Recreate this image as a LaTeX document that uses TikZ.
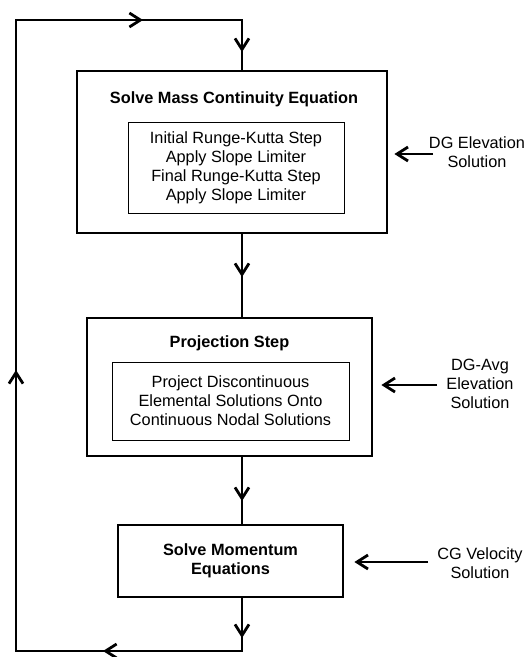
\documentclass[tikz,border=0pt]{standalone}
\usepackage{fontspec}
\setmainfont{Liberation Sans}
\usetikzlibrary{arrows.meta,calc}
\begin{document}
\begin{tikzpicture}[x=1pt,y=-1pt,
  font=\fontsize{16.3}{19}\selectfont,
  outerbox/.style={draw,line width=2.8pt,inner sep=0pt},
  innerbox/.style={draw,line width=1pt,inner sep=0pt,align=center},
  titletext/.style={font=\fontsize{16.3}{19}\selectfont\bfseries,align=center,inner sep=0pt},
  sidetext/.style={align=center,inner sep=0pt},
  flow/.style={line width=2.8pt,line join=miter},
  arr/.style={line width=2.8pt,-{Straight Barb[length=11pt,width=14pt]}}]
\useasboundingbox (0,0) rectangle (530,657);

% boxes
\node[outerbox,minimum width=310,minimum height=162] (b1) at (232,152) {};
\node[titletext] (t1) at (234,99) {Solve Mass Continuity Equation};
\node[innerbox,minimum width=216,minimum height=91] (i1) at (236,167.5)
  {Initial Runge-Kutta Step\\Apply Slope Limiter\\Final Runge-Kutta Step\\Apply Slope Limiter};

\node[outerbox,minimum width=285,minimum height=138] (b2) at (229.5,387) {};
\node[titletext] (t2) at (229.5,343) {Projection Step};
\node[innerbox,minimum width=237,minimum height=78] (i2) at (230.5,401)
  {Project Discontinuous\\Elemental Solutions Onto\\Continuous Nodal Solutions};

\node[outerbox,titletext,minimum width=225,minimum height=72] (b3) at (230.5,561)
  {Solve Momentum\\Equations};

% side labels
\node[sidetext] (s1) at (477,152.5) {DG Elevation\\Solution};
\node[sidetext] (s2) at (480,384) {DG-Avg\\Elevation\\Solution};
\node[sidetext] (s3) at (480,563) {CG Velocity\\Solution};

\coordinate (a1) at (433,154);
\coordinate (a2) at (437,385);
\coordinate (a3) at (428,562);
\draw[arr,shorten >=6pt] (a1) -- (a1 -| b1.east);
\draw[arr,shorten >=8pt] (a2) -- (a2 -| b2.east);
\draw[arr,shorten >=10pt] (a3) -- (a3 -| b3.east);

% main loop
\coordinate (tr) at (242,20);
\coordinate (tl) at (16,20);
\coordinate (bl) at (16,651);
\coordinate (br) at (242,651);
\coordinate (m1) at (143,20);
\coordinate (m2) at (242,52);
\coordinate (m3) at (242,277);
\coordinate (m4) at (242,501);
\coordinate (m5) at (242,638);
\coordinate (m6) at (103,651);
\coordinate (m7) at (16,370);

\draw[flow] (b3.south -| br) -- (br) -- (bl) -- (tl) -- (tr) -- (b1.north -| tr);
\draw[flow] (b1.south -| tr) -- (b2.north -| tr);
\draw[flow] (b2.south -| tr) -- (b3.north -| tr);

\draw[arr] (tl) -- (m1);
\draw[arr] (tr) -- (m2);
\draw[arr] (b1.south -| tr) -- (m3);
\draw[arr] (b2.south -| tr) -- (m4);
\draw[arr] (b3.south -| br) -- (m5);
\draw[arr] (br) -- (m6);
\draw[arr] (bl) -- (m7);
\end{tikzpicture}
\end{document}
